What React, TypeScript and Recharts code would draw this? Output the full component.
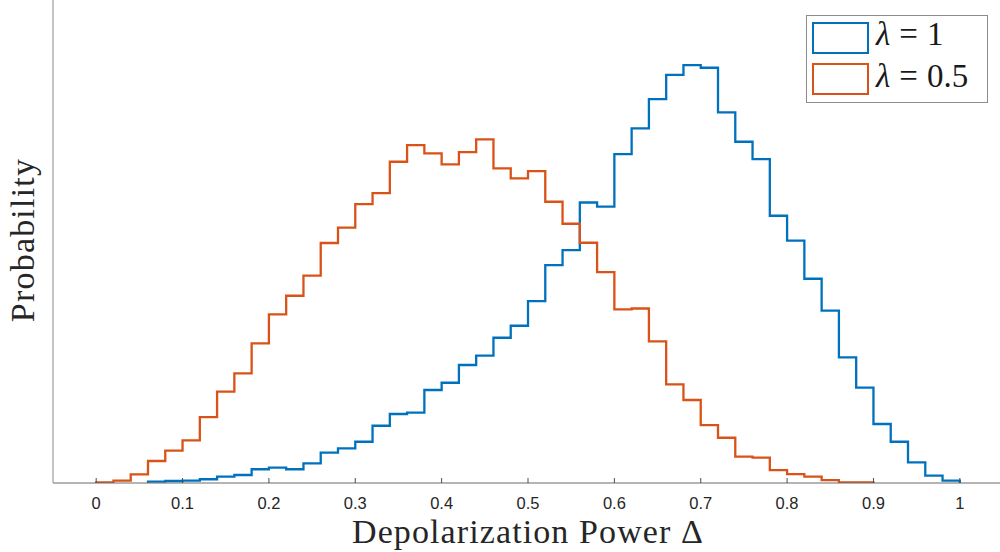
import React from 'react';
import { Legend, Line, LineChart, XAxis, YAxis } from 'recharts';

// histogram bins, 0.02 wide; values are probability per bin
const BIN_WIDTH = 0.02;

const lambda1Start = 0.06;
const lambda1Prob = [
  0.00019, 0.00029, 0.00033, 0.00054, 0.00091, 0.00116, 0.00199, 0.00222, 0.00199, 0.00285,
  0.00439, 0.00503, 0.00598, 0.0083, 0.01, 0.01019, 0.01348, 0.01453, 0.0171, 0.01845,
  0.02105, 0.02279, 0.02637, 0.03159, 0.03376, 0.04065, 0.04004, 0.04767, 0.0514, 0.05564,
  0.05916, 0.06057, 0.06018, 0.05372, 0.04946, 0.04695, 0.03873, 0.03514, 0.0296, 0.02497,
  0.01821, 0.01381, 0.00855, 0.00598, 0.003, 0.00106, 0.00033,
];

const lambdaHalfStart = 0;
const lambdaHalfProb = [
  0.0001, 0.00033, 0.00126, 0.00319, 0.00468, 0.00619, 0.00956, 0.01323, 0.0159, 0.02024,
  0.02445, 0.02714, 0.03004, 0.03478, 0.037, 0.04043, 0.04202, 0.04656, 0.04898, 0.04777,
  0.04618, 0.04796, 0.0498, 0.0456, 0.04415, 0.04521, 0.04076, 0.03757, 0.03482, 0.03057,
  0.02517, 0.02529, 0.02053, 0.0143, 0.01203, 0.0084, 0.00656, 0.00381, 0.00367, 0.00188,
  0.0013, 0.00091, 0.00043, 0.0001, 0.0001,
];

const xTicks = [0, 0.1, 0.2, 0.3, 0.4, 0.5, 0.6, 0.7, 0.8, 0.9, 1];

const BLUE = '#0072BD';
const ORANGE = '#D95319';

// outline of a stairs histogram: up from 0 at the first edge, down to 0 at the last
const stairs = (start: number, probs: number[]) => {
  const pts = [{ x: start, y: 0 }];
  probs.forEach((p, i) => pts.push({ x: +(start + i * BIN_WIDTH).toFixed(4), y: p }));
  pts.push({ x: +(start + probs.length * BIN_WIDTH).toFixed(4), y: 0 });
  return pts;
};

const blueData = stairs(lambda1Start, lambda1Prob);
const orangeData = stairs(lambdaHalfStart, lambdaHalfProb);

const serif = '"Liberation Serif", "Times New Roman", serif';

const XTick = (props: any) => {
  const { x, y, payload } = props;
  return (
    <g>
      <line x1={x} x2={x} y1={y} y2={y - 5} stroke="#4d4d4d" strokeWidth={1} />
      <text
        x={x}
        y={y + 25.5}
        textAnchor="middle"
        fill="#262626"
        fontSize={16.5}
        fontFamily='"Liberation Sans", Arial, sans-serif'
      >
        {payload.value}
      </text>
    </g>
  );
};

const YTitle = () => (
  <text
    x={34}
    y={240}
    transform="rotate(-90, 34, 240)"
    textAnchor="middle"
    fill="#262626"
    fontSize={34}
    fontFamily={serif}
    letterSpacing={1.2}
  >
    Probability
  </text>
);

const LegendBox = () => {
  const row = (color: string, label: string, top: number, textTop: number) => (
    <>
      <div
        style={{
          position: 'absolute',
          left: 5,
          top,
          width: 57,
          height: 32,
          boxSizing: 'border-box',
          border: `2.5px solid ${color}`,
        }}
      />
      <div
        style={{
          position: 'absolute',
          left: 69,
          top: textTop,
          fontFamily: serif,
          fontSize: 33,
          lineHeight: '33px',
          color: '#1a1a1a',
          whiteSpace: 'nowrap',
        }}
      >
        <i>λ</i>
        <span style={{ margin: '0 9px' }}>=</span>
        {label}
      </div>
    </>
  );
  return (
    <div
      style={{
        position: 'relative',
        width: 182,
        height: 88,
        boxSizing: 'border-box',
        border: '1px solid #8c8c8c',
        background: '#fff',
      }}
    >
      {row(BLUE, '1', 6, 1.5)}
      {row(ORANGE, '0.5', 47, 43.5)}
    </div>
  );
};

const App = () => {
  return (
    <div style={{ position: 'absolute', left: 0, top: 0, width: 1000, height: 552, overflow: 'hidden', background: '#fff' }}>
      <LineChart width={1003} height={552} margin={{ top: 0, right: 0, bottom: 0, left: 0 }}>
        <XAxis
          dataKey="x"
          type="number"
          domain={[-0.05, 1.05]}
          allowDataOverflow
          ticks={xTicks}
          interval={0}
          height={69}
          tickSize={0}
          tickMargin={0}
          tickLine={false}
          axisLine={{ stroke: '#6b6b6b', strokeWidth: 1 }}
          tick={<XTick />}
          label={{
            value: 'Depolarization Power Δ',
            position: 'insideBottom',
            offset: 9,
            style: { fontFamily: serif, fontSize: 34, fill: '#262626', letterSpacing: 1.1 },
          }}
        />
        <YAxis
          type="number"
          domain={[0, 0.07]}
          allowDataOverflow
          width={53}
          tick={false}
          tickLine={false}
          axisLine={{ stroke: '#8a8a8a', strokeWidth: 1 }}
          label={<YTitle />}
        />
        {/* middle/center so the legend reserves no space around the plot */}
        <Legend
          layout="vertical"
          align="center"
          verticalAlign="middle"
          content={<LegendBox />}
          wrapperStyle={{ position: 'absolute', left: 806, top: 15, width: 182, height: 88 }}
        />
        <Line
          data={blueData}
          dataKey="y"
          name="λ = 1"
          type="stepAfter"
          stroke={BLUE}
          strokeWidth={2.3}
          dot={false}
          activeDot={false}
          isAnimationActive={false}
        />
        <Line
          data={orangeData}
          dataKey="y"
          name="λ = 0.5"
          type="stepAfter"
          stroke={ORANGE}
          strokeWidth={2.3}
          dot={false}
          activeDot={false}
          isAnimationActive={false}
        />
      </LineChart>
    </div>
  );
};

export default App;
